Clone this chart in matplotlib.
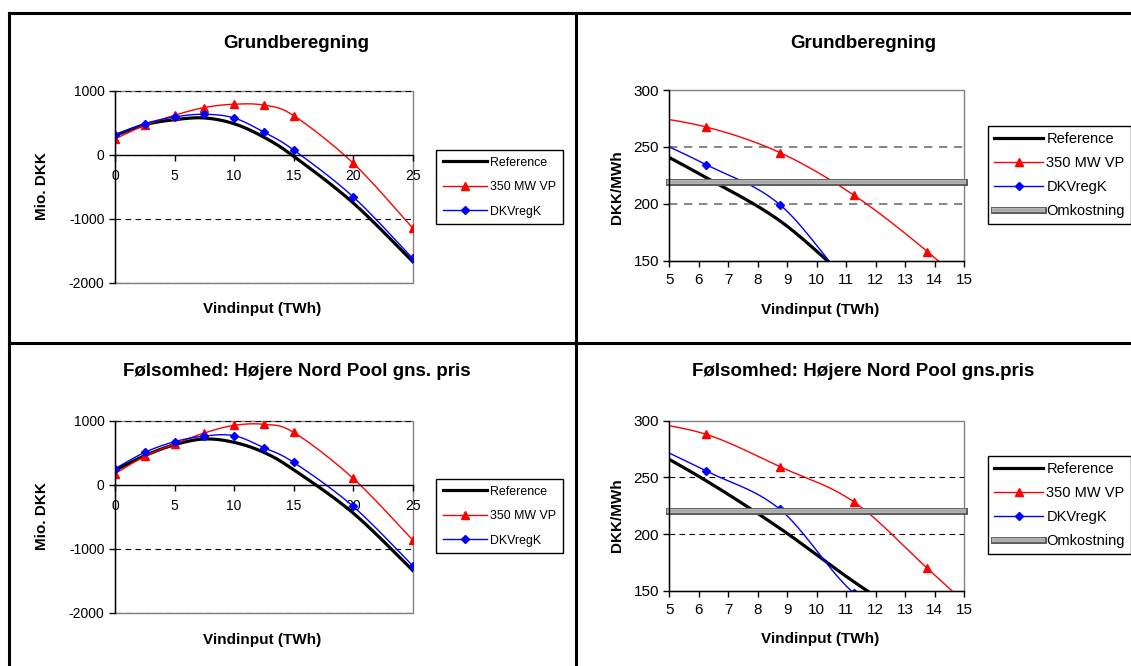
import numpy as np
import matplotlib
matplotlib.use("Agg")
import matplotlib.pyplot as plt
from matplotlib.lines import Line2D
import matplotlib.patheffects as pe

plt.rcParams["font.family"] = ["Liberation Sans", "DejaVu Sans"]
plt.rcParams["axes.unicode_minus"] = False

# ---------------- data ----------------
# Total result (Mio. DKK) against wind input (TWh)
vind_total = [0, 2.5, 5, 7.5, 10, 12.5, 15, 20, 25]
grund_reference = [300, 468, 547, 574, 484, 274, -25, -753, -1670]
grund_vp350 = [247, 458, 616, 737, 789, 774, 611, -132, -1147]
grund_dkvregk = [300, 484, 590, 632, 574, 353, 74, -658, -1621]

sens_reference = [224, 453, 625, 714, 662, 505, 234, -443, -1339]
sens_vp350 = [172, 443, 636, 808, 927, 943, 818, 99, -865]
sens_dkvregk = [250, 505, 672, 760, 766, 578, 349, -339, -1266]

# Value of wind power (DKK/MWh) against wind input (TWh)
vind_mid = [3.75, 6.25, 8.75, 11.25, 13.75, 16.25]
grund_reference_pris = [258, 223, 185, 130, 80, 40]
grund_vp350_pris = [279, 267.5, 245, 207.7, 158, 100]
grund_dkvregk_pris = [265, 234.4, 199.2, 125, 70, 30]
grund_omkostning = 219

sens_reference_pris = [284, 247, 205, 158, 115, 75]
sens_vp350_pris = [301, 288, 259.4, 228.5, 169.7, 110]
sens_dkvregk_pris = [287, 255.6, 221.8, 148, 110, 70]
sens_omkostning = 220

omk_x = [5, 15]

series_labels = ["Reference", "350 MW VP", "DKVregK", "Omkostning"]
titles = ["Grundberegning", "Grundberegning",
          "Følsomhed: Højere Nord Pool gns. pris",
          "Følsomhed: Højere Nord Pool gns.pris"]
xlabel = "Vindinput (TWh)"
ylabel_left = "Mio. DKK"
ylabel_right = "DKK/MWh"

W, H = 1131, 666
fig = plt.figure(figsize=(W / 100, H / 100), dpi=100)


def fx(px):
    return px / W


def fy(py):
    return 1 - py / H


def smooth(x, y, steps=40):
    """Bezier smoothing through the points (spreadsheet style)."""
    P = np.column_stack([x, y]).astype(float)
    n = len(P)
    t = np.linspace(0, 1, steps + 1)[1:, None]
    out = [P[0][None, :]]
    for i in range(n - 1):
        p0 = P[max(i - 1, 0)]
        p1, p2 = P[i], P[i + 1]
        p3 = P[min(i + 2, n - 1)]
        c1 = p1 + (p2 - p0) / 6
        c2 = p2 - (p3 - p1) / 6
        b = ((1 - t) ** 3) * p1 + 3 * ((1 - t) ** 2) * t * c1 \
            + 3 * (1 - t) * t ** 2 * c2 + t ** 3 * p2
        out.append(b)
    out = np.vstack(out)
    return out[:, 0], out[:, 1]


REF = dict(color="black", lw=2.3)
VP = dict(color="#ff0000", lw=1.0)
DKV = dict(color="#0000ff", lw=1.0)
VP_M = dict(marker="^", markersize=6, color="#ff0000", ls="none")
DKV_M = dict(marker="D", markersize=4.2, color="#0000ff", ls="none")
omk_effects = [pe.Stroke(linewidth=5.0, foreground="#5a5a5a"),
               pe.Stroke(linewidth=3.0, foreground="#b4b4b4"),
               pe.Normal()]
OMK = dict(color="#a8a8a8", lw=1.2, solid_capstyle="projecting",
           path_effects=omk_effects)


def style_axes(ax, grid_color, grid_lw, ticksize):
    ax.patch.set_edgecolor("#808080")
    ax.patch.set_linewidth(1.0)
    for s in ("top", "right"):
        ax.spines[s].set_visible(False)
    for s in ("left", "bottom"):
        ax.spines[s].set_color("black")
        ax.spines[s].set_linewidth(1.0)
    ax.yaxis.grid(True, color=grid_color, lw=grid_lw, linestyle=(0, (5, 4)))
    ax.set_axisbelow(True)
    ax.tick_params(direction="out", length=4, width=1, labelsize=ticksize,
                   colors="black")


def draw_total(ax, ref, vp, dkv):
    ax.plot(*smooth(vind_total, ref), **REF)
    ax.plot(*smooth(vind_total, vp), **VP)
    ax.plot(vind_total, vp, **VP_M)
    ax.plot(*smooth(vind_total, dkv), **DKV)
    ax.plot(vind_total, dkv, **DKV_M)
    ax.set_xlim(0, 25)
    ax.set_ylim(-2000, 1000)
    ax.set_xticks(range(0, 26, 5))
    ax.set_yticks([-2000, -1000, 0, 1000])
    style_axes(ax, "black", 0.8, 10)
    ax.spines["bottom"].set_position(("data", 0))
    ax.tick_params(axis="x", pad=6)


def draw_price(ax, ref, vp, dkv, omk, grid_color, grid_lw):
    ax.plot(*smooth(vind_mid, ref), **REF)
    ax.plot(*smooth(vind_mid, vp), **VP)
    ax.plot(vind_mid, vp, **VP_M)
    ax.plot(*smooth(vind_mid, dkv), **DKV)
    ax.plot(vind_mid, dkv, **DKV_M)
    ax.plot(omk_x, [omk] * len(omk_x), clip_on=False, **OMK)
    ax.set_xlim(5, 15)
    ax.set_ylim(150, 300)
    ax.set_xticks(range(5, 16))
    ax.set_yticks([150, 200, 250, 300])
    style_axes(ax, grid_color, grid_lw, 11)
    grid = ax.yaxis.get_gridlines()
    grid[0].set_visible(False)
    grid[-1].set_visible(False)
    ax.tick_params(axis="x", pad=5)


def legend_handles(with_omk):
    h = [Line2D([], [], **REF),
         Line2D([], [], marker="^", markersize=6, **VP),
         Line2D([], [], marker="D", markersize=4.2, **DKV)]
    if with_omk:
        h.append(Line2D([], [], **OMK))
    return h


# axes rectangles (figure pixel coordinates: left, top, right, bottom)
rects = {
    "tl": (115, 90.7, 412.7, 282.7),
    "bl": (115, 420.7, 412.7, 612.7),
    "tr": (669.3, 90, 964.3, 260.7),
    "br": (669.3, 420.7, 964.3, 590.7),
}
axs = {}
for k, (l, t, r, b) in rects.items():
    axs[k] = fig.add_axes([fx(l), fy(b), fx(r - l), (b - t) / H])

draw_total(axs["tl"], grund_reference, grund_vp350, grund_dkvregk)
draw_total(axs["bl"], sens_reference, sens_vp350, sens_dkvregk)
draw_price(axs["tr"], grund_reference_pris, grund_vp350_pris,
           grund_dkvregk_pris, grund_omkostning, "#707070", 1.2)
draw_price(axs["br"], sens_reference_pris, sens_vp350_pris,
           sens_dkvregk_pris, sens_omkostning, "black", 0.8)

# titles and axis labels
title_kw = dict(fontsize=13.5, fontweight="bold", ha="center", va="center")
fig.text(fx(296), fy(43), titles[0], **title_kw)
fig.text(fx(863), fy(43), titles[1], **title_kw)
fig.text(fx(297), fy(372), titles[2], **title_kw)
fig.text(fx(863), fy(372), titles[3], **title_kw)

lab_kw = dict(fontsize=11, fontweight="bold", ha="center", va="center")
fig.text(fx(262.5), fy(309), xlabel, **lab_kw)
fig.text(fx(820), fy(310), xlabel, **lab_kw)
fig.text(fx(262.5), fy(640), xlabel, **lab_kw)
fig.text(fx(820), fy(639), xlabel, **lab_kw)
fig.text(fx(42), fy(186), ylabel_left, rotation=90, **lab_kw)
fig.text(fx(42), fy(516), ylabel_left, rotation=90, **lab_kw)
fig.text(fx(617), fy(187), ylabel_right, rotation=90, **lab_kw)
fig.text(fx(617), fy(515), ylabel_right, rotation=90, **lab_kw)

# legends
base_kw = dict(loc="upper left", frameon=True, fancybox=False,
               edgecolor="black", handletextpad=0.2, borderaxespad=0,
               framealpha=1)
small_kw = dict(fontsize=8.9, handlelength=3.6, borderpad=0.55,
                labelspacing=1.0, **base_kw)
large_kw = dict(fontsize=10.5, handlelength=3.4, borderpad=0.4,
                labelspacing=0.7, **base_kw)
for (px, py), with_omk in [((436, 150), False), ((436, 479), False),
                           ((988, 126), True), ((988, 456), True)]:
    n = 4 if with_omk else 3
    kw = large_kw if with_omk else small_kw
    lg = fig.legend(legend_handles(with_omk), series_labels[:n],
                    bbox_to_anchor=(fx(px), fy(py)), **kw)
    lg.get_frame().set_linewidth(1.0)

# outer frame of the chart grid
frame_kw = dict(color="black", lw=2.2, transform=fig.transFigure)
fig.add_artist(Line2D([fx(9), fx(9)], [fy(13), 0], **frame_kw))
fig.add_artist(Line2D([fx(9), 1], [fy(13), fy(13)], **frame_kw))
fig.add_artist(Line2D([fx(575.5), fx(575.5)], [fy(13), 0], **frame_kw))
fig.add_artist(Line2D([fx(9), 1], [fy(343.5), fy(343.5)], **frame_kw))

fig.savefig("out.png", dpi=100)
